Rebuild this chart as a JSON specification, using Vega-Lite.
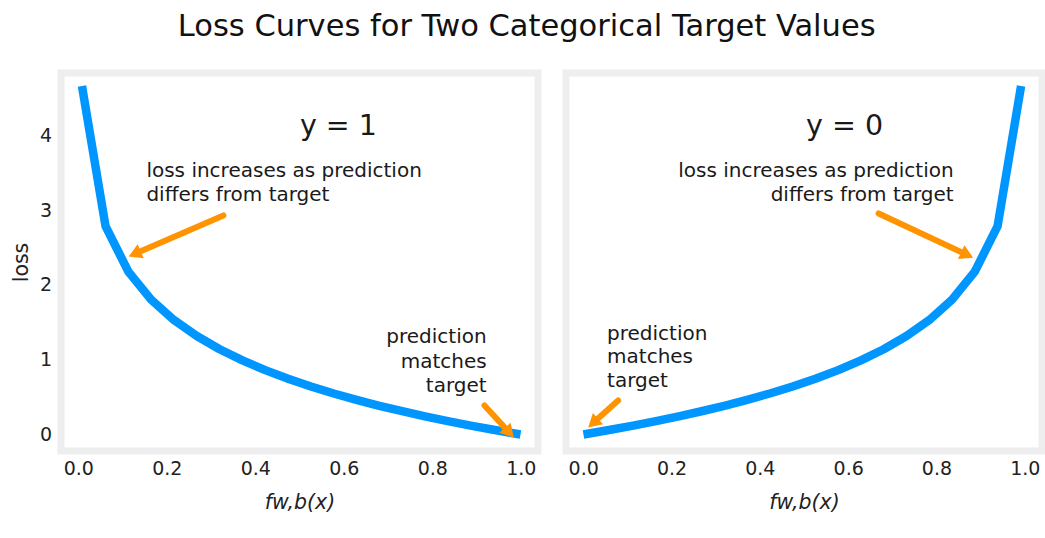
{
  "$schema": "https://vega.github.io/schema/vega-lite/v6.json",
  "background": "white",
  "padding": {"left": 7, "right": 0, "top": 12, "bottom": 0},
  "title": {"text": "Loss Curves for Two Categorical Target Values", "fontSize": 30.5, "fontWeight": "normal", "font": "DejaVu Sans", "color": "#111111", "anchor": "middle", "offset": 27},
  "spacing": 20,
  "config": {
    "font": "DejaVu Sans",
    "view": {"stroke": "#eeeeee", "strokeWidth": 7},
    "axis": {"grid": false, "domain": false, "ticks": false, "tickSize": 0, "labelFont": "DejaVu Sans", "labelFontSize": 19, "labelColor": "#222222", "titleFont": "DejaVu Sans", "titleFontSize": 20.5, "titleFontWeight": "normal", "titleColor": "#222222"},
    "text": {"font": "DejaVu Sans", "color": "#1a1a1a"}
  },
  "datasets": {
    "curve1": [
      {"p": 0.01, "loss": 4.6052}, {"p": 0.0616, "loss": 2.7874}, {"p": 0.1132, "loss": 2.179}, {"p": 0.1647, "loss": 1.8034},
      {"p": 0.2163, "loss": 1.5311}, {"p": 0.2679, "loss": 1.3172}, {"p": 0.3195, "loss": 1.1411}, {"p": 0.3711, "loss": 0.9914},
      {"p": 0.4226, "loss": 0.8613}, {"p": 0.4742, "loss": 0.7461}, {"p": 0.5258, "loss": 0.6429}, {"p": 0.5774, "loss": 0.5493},
      {"p": 0.6289, "loss": 0.4637}, {"p": 0.6805, "loss": 0.3849}, {"p": 0.7321, "loss": 0.3118}, {"p": 0.7837, "loss": 0.2438},
      {"p": 0.8353, "loss": 0.18}, {"p": 0.8868, "loss": 0.1201}, {"p": 0.9384, "loss": 0.0636}, {"p": 0.99, "loss": 0.0101}
    ],
    "curve0": [
      {"p": 0.01, "loss": 0.0101}, {"p": 0.0616, "loss": 0.0636}, {"p": 0.1132, "loss": 0.1201}, {"p": 0.1647, "loss": 0.18},
      {"p": 0.2163, "loss": 0.2438}, {"p": 0.2679, "loss": 0.3118}, {"p": 0.3195, "loss": 0.3849}, {"p": 0.3711, "loss": 0.4637},
      {"p": 0.4226, "loss": 0.5493}, {"p": 0.4742, "loss": 0.6429}, {"p": 0.5258, "loss": 0.7461}, {"p": 0.5774, "loss": 0.8613},
      {"p": 0.6289, "loss": 0.9914}, {"p": 0.6805, "loss": 1.1411}, {"p": 0.7321, "loss": 1.3172}, {"p": 0.7837, "loss": 1.5311},
      {"p": 0.8353, "loss": 1.8034}, {"p": 0.8868, "loss": 2.179}, {"p": 0.9384, "loss": 2.7874}, {"p": 0.99, "loss": 4.6052}
    ]
  },
  "hconcat": [
    {
      "width": 477,
      "height": 378,
      "layer": [
        {
          "data": {"name": "curve1"},
          "mark": {"type": "line", "color": "#0096ff", "strokeWidth": 8.5, "strokeCap": "square", "strokeJoin": "round"},
          "encoding": {
            "x": {"field": "p", "type": "quantitative", "scale": {"domain": [-0.039, 1.039], "nice": false, "zero": false},
                  "axis": {"values": [0, 0.2, 0.4, 0.6, 0.8, 1], "format": ".1f", "title": "fw,b(x)", "titleFontStyle": "italic", "labelPadding": 8.5, "titlePadding": 14}},
            "y": {"field": "loss", "type": "quantitative", "scale": {"domain": [-0.22, 4.835], "nice": false, "zero": false},
                  "axis": {"values": [0, 1, 2, 3, 4], "format": "d", "title": "loss", "labelPadding": 9.5, "titlePadding": 8}}
          }
        },
        {
          "data": {"values": [{"p": 0.328, "loss": 2.93, "p2": 0.132, "loss2": 2.427}, {"p": 0.918, "loss": 0.388, "p2": 0.971, "loss2": 0.047}]},
          "mark": {"type": "rule", "color": "#ff9300", "strokeWidth": 6, "strokeCap": "round"},
          "encoding": {"x": {"field": "p", "type": "quantitative"}, "y": {"field": "loss", "type": "quantitative"}, "x2": {"field": "p2"}, "y2": {"field": "loss2"}}
        },
        {
          "data": {"values": [{"p": 0.132, "loss": 2.427}]},
          "mark": {"type": "point", "shape": "triangle", "filled": true, "opacity": 1, "size": 230, "angle": 246.5, "color": "#ff9300"},
          "encoding": {"x": {"field": "p", "type": "quantitative"}, "y": {"field": "loss", "type": "quantitative"}}
        },
        {
          "data": {"values": [{"p": 0.971, "loss": 0.047}]},
          "mark": {"type": "point", "shape": "triangle", "filled": true, "opacity": 1, "size": 230, "angle": 138, "color": "#ff9300"},
          "encoding": {"x": {"field": "p", "type": "quantitative"}, "y": {"field": "loss", "type": "quantitative"}}
        },
        {
          "data": {"values": [{"p": 0.588, "loss": 4.13, "label": "y = 1"}]},
          "mark": {"type": "text", "fontSize": 28.5, "align": "center", "baseline": "middle"},
          "encoding": {"x": {"field": "p", "type": "quantitative"}, "y": {"field": "loss", "type": "quantitative"}, "text": {"field": "label"}}
        },
        {
          "data": {"values": [{"p": 0.154, "loss": 3.518, "label": "loss increases as prediction\n\u00a0differs from target"}]},
          "mark": {"type": "text", "fontSize": 20, "align": "left", "baseline": "middle", "lineBreak": "\n", "lineHeight": 24},
          "encoding": {"x": {"field": "p", "type": "quantitative"}, "y": {"field": "loss", "type": "quantitative"}, "text": {"field": "label"}}
        },
        {
          "data": {"values": [{"p": 0.923, "loss": 1.298, "label": "prediction\nmatches\ntarget"}]},
          "mark": {"type": "text", "fontSize": 20, "align": "right", "baseline": "middle", "lineBreak": "\n", "lineHeight": 24.5},
          "encoding": {"x": {"field": "p", "type": "quantitative"}, "y": {"field": "loss", "type": "quantitative"}, "text": {"field": "label"}}
        }
      ]
    },
    {
      "width": 476,
      "height": 378,
      "layer": [
        {
          "data": {"name": "curve0"},
          "mark": {"type": "line", "color": "#0096ff", "strokeWidth": 8.5, "strokeCap": "square", "strokeJoin": "round"},
          "encoding": {
            "x": {"field": "p", "type": "quantitative", "scale": {"domain": [-0.039, 1.039], "nice": false, "zero": false},
                  "axis": {"values": [0, 0.2, 0.4, 0.6, 0.8, 1], "format": ".1f", "title": "fw,b(x)", "titleFontStyle": "italic", "labelPadding": 8.5, "titlePadding": 14}},
            "y": {"field": "loss", "type": "quantitative", "scale": {"domain": [-0.22, 4.835], "nice": false, "zero": false}, "axis": null}
          }
        },
        {
          "data": {"values": [{"p": 0.669, "loss": 2.957, "p2": 0.865, "loss2": 2.415}, {"p": 0.079, "loss": 0.455, "p2": 0.026, "loss2": 0.174}]},
          "mark": {"type": "rule", "color": "#ff9300", "strokeWidth": 6, "strokeCap": "round"},
          "encoding": {"x": {"field": "p", "type": "quantitative"}, "y": {"field": "loss", "type": "quantitative"}, "x2": {"field": "p2"}, "y2": {"field": "loss2"}}
        },
        {
          "data": {"values": [{"p": 0.865, "loss": 2.415}]},
          "mark": {"type": "point", "shape": "triangle", "filled": true, "opacity": 1, "size": 230, "angle": 115, "color": "#ff9300"},
          "encoding": {"x": {"field": "p", "type": "quantitative"}, "y": {"field": "loss", "type": "quantitative"}}
        },
        {
          "data": {"values": [{"p": 0.026, "loss": 0.174}]},
          "mark": {"type": "point", "shape": "triangle", "filled": true, "opacity": 1, "size": 230, "angle": 228, "color": "#ff9300"},
          "encoding": {"x": {"field": "p", "type": "quantitative"}, "y": {"field": "loss", "type": "quantitative"}}
        },
        {
          "data": {"values": [{"p": 0.592, "loss": 4.13, "label": "y = 0"}]},
          "mark": {"type": "text", "fontSize": 28.5, "align": "center", "baseline": "middle"},
          "encoding": {"x": {"field": "p", "type": "quantitative"}, "y": {"field": "loss", "type": "quantitative"}, "text": {"field": "label"}}
        },
        {
          "data": {"values": [{"p": 0.839, "loss": 3.518, "label": "loss increases as prediction\ndiffers from target"}]},
          "mark": {"type": "text", "fontSize": 20, "align": "right", "baseline": "middle", "lineBreak": "\n", "lineHeight": 24},
          "encoding": {"x": {"field": "p", "type": "quantitative"}, "y": {"field": "loss", "type": "quantitative"}, "text": {"field": "label"}}
        },
        {
          "data": {"values": [{"p": 0.054, "loss": 1.351, "label": "prediction\nmatches\ntarget"}]},
          "mark": {"type": "text", "fontSize": 20, "align": "left", "baseline": "middle", "lineBreak": "\n", "lineHeight": 23.5},
          "encoding": {"x": {"field": "p", "type": "quantitative"}, "y": {"field": "loss", "type": "quantitative"}, "text": {"field": "label"}}
        }
      ]
    }
  ]
}
